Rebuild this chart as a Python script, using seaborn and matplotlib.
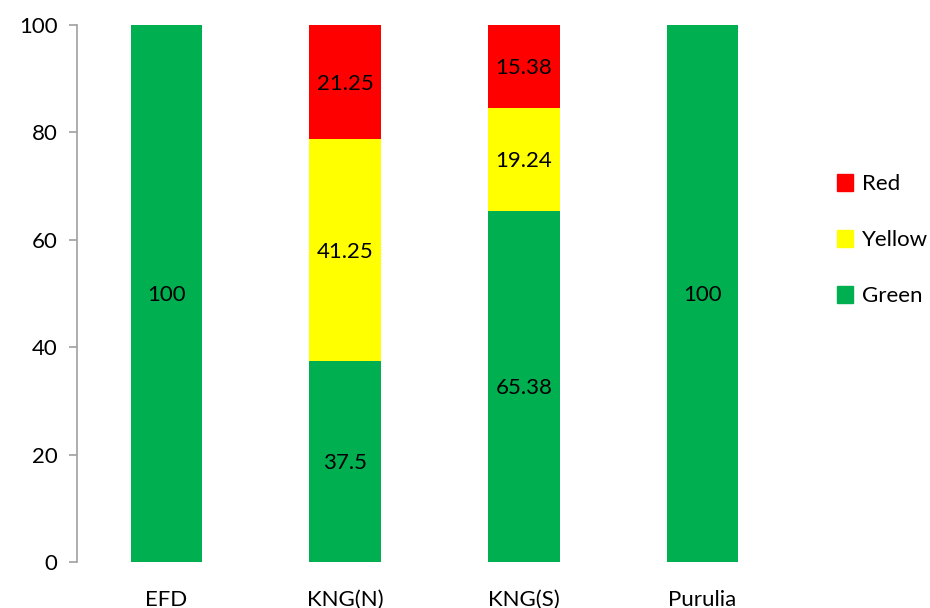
import numpy as np
import pandas as pd
import matplotlib.pyplot as plt
import seaborn as sns
from matplotlib.patches import Patch

sites = ['EFD', 'KNG(N)', 'KNG(S)', 'Purulia']
green = [100, 37.5, 65.38, 100]
yellow = [0, 41.25, 19.24, 0]
red = [0, 21.25, 15.38, 0]

colors = {'Green': '#00B050', 'Yellow': '#FFFF00', 'Red': '#FF0000'}

sns.set_style('white')
plt.rcParams['font.family'] = ['Lato', 'DejaVu Sans']

df = pd.DataFrame({'site': sites, 'Green': green, 'Yellow': yellow, 'Red': red})
df['cum_yellow'] = df['Green'] + df['Yellow']
df['cum_red'] = df['cum_yellow'] + df['Red']

fig = plt.figure(figsize=(9.3, 6.08), dpi=100)
ax = fig.add_axes([0.0828, 0.0757, 0.7688, 0.8832])

# stack by overlaying cumulative totals, tallest first
for col, c in [('cum_red', 'Red'), ('cum_yellow', 'Yellow'), ('Green', 'Green')]:
    sns.barplot(data=df, x='site', y=col, color=colors[c], width=0.4,
                saturation=1, linewidth=0, ax=ax)

# value labels centred in each segment
for i in range(len(sites)):
    base = 0
    for seg in ['Green', 'Yellow', 'Red']:
        v = df[seg][i]
        if v > 0:
            ax.text(i, base + v / 2, f'{v:g}', ha='center', va='center_baseline',
                    fontsize=16, color='black')
        base += v

ax.set_xlim(-0.5, 3.5)
ax.set_ylim(0, 100)
ax.set_yticks(np.arange(0, 101, 20))
ax.set_xlabel('')
ax.set_ylabel('')
ax.tick_params(axis='y', labelsize=16, length=6, width=1.2, color='#A0A0A0',
               labelcolor='black', left=True, pad=8)
ax.tick_params(axis='x', labelsize=16, length=0, pad=20, labelcolor='black')

for s in ['top', 'right', 'bottom']:
    ax.spines[s].set_visible(False)
ax.spines['left'].set_color('#A0A0A0')
ax.spines['left'].set_linewidth(1.2)

handles = [Patch(color=colors[k]) for k in ['Red', 'Yellow', 'Green']]
fig.legend(handles, ['Red', 'Yellow', 'Green'], loc='center left',
           bbox_to_anchor=(0.878, 0.605), frameon=False, fontsize=16,
           handlelength=0.75, handleheight=0.75, labelspacing=1.62, handletextpad=0.4,
           labelcolor='black')

fig.savefig('out.png', dpi=100)
